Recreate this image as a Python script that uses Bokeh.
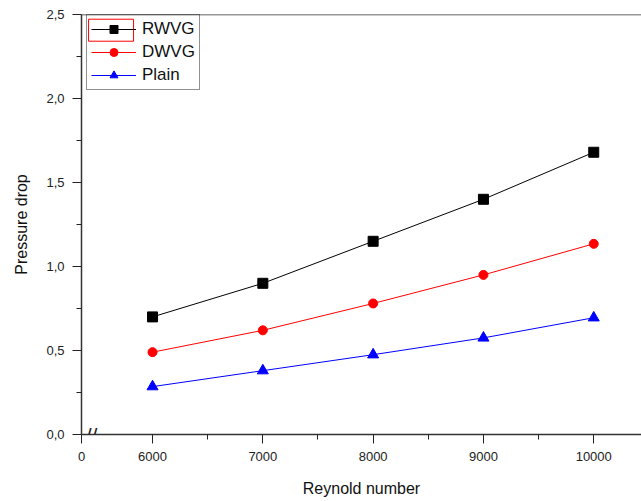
from bokeh.plotting import figure
from bokeh.models import (FixedTicker, Legend, LegendItem, Span, Label, BoxAnnotation, Range1d)
from bokeh.embed import file_html
from bokeh.resources import INLINE

# ---- data ----
reynolds = [6000, 7000, 8000, 9000, 10000]
rwvg = [0.70, 0.90, 1.15, 1.40, 1.68]
dwvg = [0.49, 0.62, 0.78, 0.95, 1.135]
plain = [0.285, 0.38, 0.475, 0.575, 0.695]

series_names = ["RWVG", "DWVG", "Plain"]

# broken axis: "0" is drawn at the left end of the x range
x_zero_pos = 5356
x_tick_values = [x_zero_pos, 6000, 7000, 8000, 9000, 10000]
x_tick_labels = ["0", "6000", "7000", "8000", "9000", "10000"]
x_minor = [6500, 7500, 8500, 9500]
y_tick_values = [0.0, 0.5, 1.0, 1.5, 2.0, 2.5]
y_tick_labels = ["0,0", "0,5", "1,0", "1,5", "2,0", "2,5"]
y_minor = [0.25, 0.75, 1.25, 1.75, 2.25]

FONT = "Liberation Sans"

p = figure(width=641, height=501, output_backend="svg", toolbar_location=None,
           x_range=Range1d(x_zero_pos, 10433), y_range=Range1d(0, 2.5),
           min_border_left=81, min_border_right=0, min_border_top=14, min_border_bottom=67)
p.outline_line_color = None
p.grid.visible = False
p.background_fill_color = "white"

# axes
for ax in (p.xaxis[0], p.yaxis[0]):
    ax.axis_line_color = "#333333"
    ax.axis_line_width = 1.5
    ax.major_tick_line_color = "#222222"
    ax.minor_tick_line_color = "#222222"
    ax.major_tick_in = 0
    ax.minor_tick_in = 0
    ax.major_tick_out = 9
    ax.minor_tick_out = 5
    ax.major_label_text_font = FONT
    ax.major_label_text_font_size = "13px"
    ax.major_label_text_color = "#222222"
    ax.axis_label_text_font = FONT
    ax.axis_label_text_font_size = "16px"
    ax.axis_label_text_font_style = "normal"
    ax.axis_label_text_color = "#111111"

p.xaxis.ticker = FixedTicker(ticks=x_tick_values, minor_ticks=x_minor)
p.xaxis.major_label_overrides = {v: l for v, l in zip(x_tick_values, x_tick_labels)}
p.xaxis.axis_label = "Reynold number"
p.xaxis.major_label_standoff = 8
p.xaxis.axis_label_standoff = 16

p.yaxis.ticker = FixedTicker(ticks=y_tick_values, minor_ticks=y_minor)
p.yaxis.major_label_overrides = {v: l for v, l in zip(y_tick_values, y_tick_labels)}
p.yaxis.axis_label = "Pressure drop"
p.yaxis.major_label_standoff = 8
p.yaxis.axis_label_standoff = 13

# top border line
p.add_layout(Span(location=2.5, dimension="width", line_color="#333333", line_width=1.5))

# series
colors = ["black", "red", "blue"]
markers = ["square", "circle", "triangle"]
sizes = [10, 9, 11]
items = []
for name, ys, c, m, s in zip(series_names, [rwvg, dwvg, plain], colors, markers, sizes):
    lr = p.line(reynolds, ys, line_color=c, line_width=1)
    sr = p.scatter(reynolds, ys, marker=m, size=s, fill_color=c, line_color=c)
    items.append(LegendItem(label=name, renderers=[lr, sr]))

legend = Legend(items=items, location=(5, 344))
legend.border_line_color = "#222222"
legend.border_line_width = 1.2
legend.background_fill_alpha = 0
legend.label_text_font = FONT
legend.label_text_font_size = "17px"
legend.label_text_color = "#111111"
legend.padding = 4
legend.spacing = 3
legend.margin = 0
legend.glyph_width = 45
legend.glyph_height = 20
legend.label_height = 20
legend.label_standoff = 6
p.add_layout(legend, "center")

# selection frame around first legend symbol
p.add_layout(BoxAnnotation(left=5420, right=5828, top=2.472, bottom=2.341,
                           fill_alpha=0, line_color="red", line_width=1, line_alpha=1))

# axis break marks (screen units, relative to the frame's bottom-left corner)
p.add_layout(Label(x=10, y=-1, x_units="screen", y_units="screen", text="//",
                   text_font=FONT, text_font_size="21px",
                   text_align="center", text_baseline="middle", text_color="#222222"))

open("out.html", "w").write(file_html(p, INLINE))
